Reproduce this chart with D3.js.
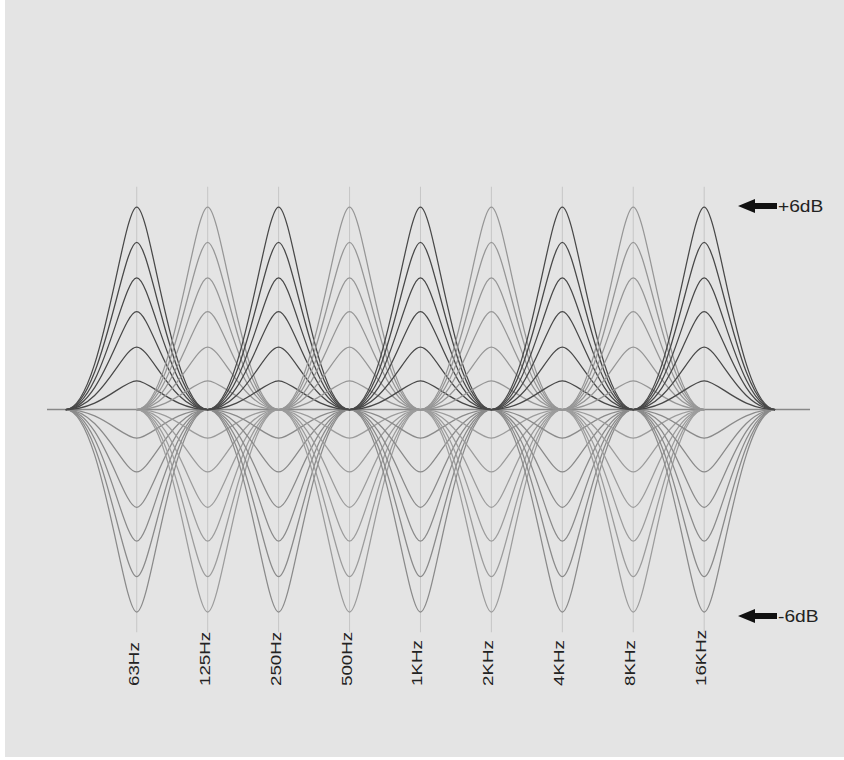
<!DOCTYPE html>
<html>
<head>
<meta charset="utf-8">
<script src="https://cdn.jsdelivr.net/npm/d3@7"></script>
<style>
  body { margin: 0; background: #fff; }
  svg { display: block; }
  .label { font-family: "Liberation Sans", Arial, sans-serif; fill: #222; }
</style>
</head>
<body>
<div id="main"></div>
<script>
// band centres (Hz) and their tick labels
const bandFreqs = [62.5, 125, 250, 500, 1000, 2000, 4000, 8000, 16000];
const bandLabels = ["63Hz", "125Hz", "250Hz", "500Hz", "1KHz", "2KHz", "4KHz", "8KHz", "16KHz"];
// gain settings drawn for every band (dB)
const boostLevels = [0.85, 1.85, 2.9, 3.9, 4.95, 6];
const cutLevels = [-0.85, -1.85, -2.9, -3.9, -4.95, -6];
// marker labels on the right
const markers = [{db: 6, text: "+6dB"}, {db: -6, text: "-6dB"}];
// extent of the frequency axis (Hz) and of the grid (dB)
const freqExtent = [26, 45000];
const gridDb = 6.6;

const ctx = {
    width: 844,
    height: 760,
    panel: {left: 5, top: 0, right: 844, bottom: 757}
};

const svg = d3.select("#main").append("svg")
    .attr("width", ctx.width)
    .attr("height", ctx.height);

svg.append("rect")
    .attr("x", ctx.panel.left)
    .attr("y", ctx.panel.top)
    .attr("width", ctx.panel.right - ctx.panel.left)
    .attr("height", ctx.panel.bottom - ctx.panel.top)
    .attr("fill", "#e4e4e4");

const x = d3.scaleLog().base(2).domain(freqExtent).range([47, 810]);
const y = d3.scaleLinear().domain([-6, 6]).range([612, 207]);

// vertical grid at each band
svg.append("g")
    .selectAll("line")
    .data(bandFreqs)
    .enter().append("line")
    .attr("x1", d => x(d)).attr("x2", d => x(d))
    .attr("y1", y(gridDb)).attr("y2", y(-gridDb))
    .attr("stroke", "#c6c6c6")
    .attr("stroke-width", 1);

// 0 dB axis
svg.append("line")
    .attr("x1", x(freqExtent[0])).attr("x2", x(freqExtent[1]))
    .attr("y1", y(0)).attr("y2", y(0))
    .attr("stroke", "#888")
    .attr("stroke-width", 1.3);

// bell curve for one band: spans one octave each side of the centre
function bellPath(f, g) {
    const p = d3.path();
    const oct = o => x(f * Math.pow(2, o));
    p.moveTo(oct(-1), y(0));
    p.bezierCurveTo(oct(-0.5), y(0), oct(-0.2), y(g), oct(0), y(g));
    p.bezierCurveTo(oct(0.2), y(g), oct(0.5), y(0), oct(1), y(0));
    return p.toString();
}

const curves = [];
bandFreqs.forEach((f, i) => {
    cutLevels.forEach(g => curves.push({f, g, i, cut: true}));
});
bandFreqs.forEach((f, i) => {
    boostLevels.forEach(g => curves.push({f, g, i, cut: false}));
});

function curveColor(d) {
    if (d.cut) return d.i % 2 === 0 ? "#8a8a8a" : "#9c9c9c";
    return d.i % 2 === 0 ? "#484848" : "#969696";
}

svg.append("g")
    .selectAll("path")
    .data(curves)
    .enter().append("path")
    .attr("d", d => bellPath(d.f, d.g))
    .attr("fill", "none")
    .attr("stroke", curveColor)
    .attr("stroke-width", 1.25);

// rotated band labels
svg.append("g")
    .selectAll("text")
    .data(bandFreqs)
    .enter().append("text")
    .attr("class", "label")
    .attr("transform", d => `translate(${x(d) + 2},686) rotate(-90) scale(1.25,1)`)
    .attr("font-size", 15)
    .text((d, i) => bandLabels[i]);

// +6dB / -6dB markers
const mk = svg.append("g")
    .selectAll("g")
    .data(markers)
    .enter().append("g")
    .attr("transform", d => `translate(738,${y(d.db) - (d.db > 0 ? 1 : -4)})`);

mk.append("path")
    .attr("d", "M0,0 L17,-7 L17,-3 L39,-3 L39,3 L17,3 L17,7 Z")
    .attr("fill", "#111");

mk.append("text")
    .attr("class", "label")
    .attr("transform", "translate(40,0) scale(1.2,1)")
    .attr("dy", "0.36em")
    .attr("font-size", 16)
    .text(d => d.text);
</script>
</body>
</html>
